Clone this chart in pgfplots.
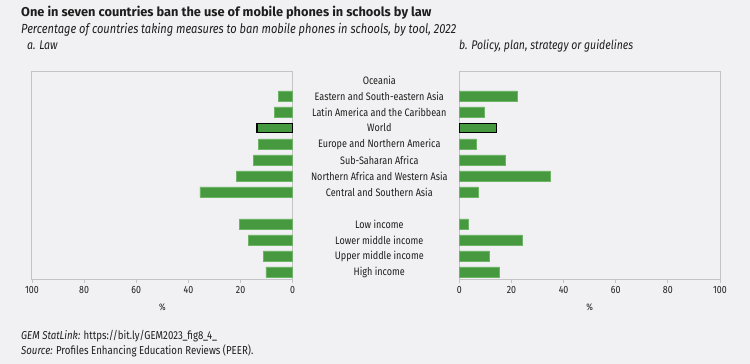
\documentclass[border=0pt]{standalone}
\usepackage{fontspec}
\setmainfont{Fira Sans}[FakeStretch=0.84]
\newfontfamily\titlefont{Fira Sans}
\usepackage{pgfplots}
\pgfplotsset{compat=1.18}
\definecolor{bg}{HTML}{F1F1F3}
\definecolor{barg}{HTML}{47993F}
\definecolor{bare}{HTML}{6DB466}
\definecolor{axg}{HTML}{C4C4C4}
\definecolor{txt}{HTML}{1E1E1E}
\pgfplotsset{
  panel/.style={
    scale only axis, width=260.7pt, height=208pt,
    xmin=0, xmax=100, ymin=-0.5, ymax=12.5,
    xtick={0,20,40,60,80,100},
    xtick pos=left, xtick align=outside,
    major tick length=3pt,
    tick style={axg, line width=0.8pt},
    axis line style={axg, line width=1pt},
    ticklabel style={font=\fontsize{10.5}{12}\selectfont, text=txt},
    /pgf/number format/assume math mode=true,
    xlabel={\%},
    xlabel style={font=\fontsize{9.5}{11}\selectfont, text=txt, yshift=-3pt},
    axis background/.style={fill=bg, draw=axg, line width=1pt},
    clip=false,
  },
  gbar/.style={xbar, bar width=10pt, bar shift=0pt, fill=barg, draw=bare, line width=0.5pt},
  wbar/.style={xbar, bar width=9pt, bar shift=0pt, fill=barg, draw=black, line width=1.5pt},
}
\begin{document}
\begin{tikzpicture}[x=1pt,y=1pt]
\fill[bg] (0,0) rectangle (750,364);
\node[anchor=base west, inner sep=0, text=txt, font=\titlefont\fontsize{12.8}{14}\selectfont\bfseries] at (21,347) {One in seven countries ban the use of mobile phones in schools by law};
\node[anchor=base west, inner sep=0, text=txt, font=\fontsize{13.2}{15}\selectfont\itshape] at (21,330) {Percentage of countries taking measures to ban mobile phones in schools, by tool, 2022};
\node[anchor=base west, inner sep=0, text=txt, font=\fontsize{12.5}{14}\selectfont\itshape] at (27,314) {a. Law};
\node[anchor=base west, inner sep=0, text=txt, font=\fontsize{12.5}{14}\selectfont\itshape] at (459,314) {b. Policy, plan, strategy or guidelines};

\begin{axis}[panel, at={(32pt,84pt)}, anchor=south west, x dir=reverse, ytick=\empty]
\addplot[gbar] coordinates {(5.4,11) (7.1,10) (13.1,8) (15.1,7) (21.5,6) (35.6,5) (20.5,3) (16.9,2) (11.3,1) (10.3,0)};
\addplot[wbar] coordinates {(13.6,9)};
\end{axis}

\begin{axis}[panel, at={(459.3pt,84pt)}, anchor=south west,
  ytick={0,1,2,3,5,6,7,8,9,10,11,12},
  yticklabels={High income, Upper middle income, Lower middle income, Low income, Central and Southern Asia, Northern Africa and Western Asia, Sub-Saharan Africa, Europe and Northern America, World, Latin America and the Caribbean, Eastern and South-eastern Asia, Oceania},
  yticklabel pos=left, ytick style={draw=none},
  yticklabel style={anchor=center, xshift=-80pt, font=\fontsize{10.8}{12}\selectfont},
]
\addplot[gbar] coordinates {(22.2,11) (9.7,10) (6.5,8) (17.8,7) (34.7,6) (7.2,5) (3.5,3) (24.1,2) (11.6,1) (15.4,0)};
\addplot[wbar] coordinates {(14.3,9)};
\end{axis}

\node[anchor=base west, inner sep=0, text=txt, font=\fontsize{11.5}{13}\selectfont] at (21,24) {\textit{GEM StatLink:} https://bit.ly/GEM2023\_fig8\_4\_};
\node[anchor=base west, inner sep=0, text=txt, font=\fontsize{11.5}{13}\selectfont] at (21,9) {\textit{Source:} Profiles Enhancing Education Reviews (PEER).};
\end{tikzpicture}
\end{document}
